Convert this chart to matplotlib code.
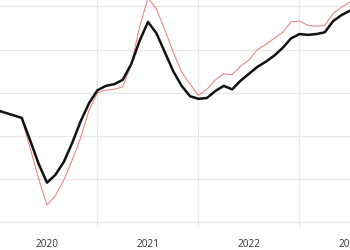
import matplotlib
matplotlib.use('Agg')
import matplotlib.pyplot as plt

plt.rcParams['font.family'] = ['Open Sans', 'DejaVu Sans']

# monthly data, Jan 2020 .. Jul 2023
months = list(range(43))
black = [3.0, 2.7, 2.4, 2.1, -0.5, -3.2, -5.4, -4.5, -3.0, -0.8, 1.7, 3.8,
         5.3, 5.8, 6.0, 6.5, 8.3, 11.0, 13.2, 11.9, 9.7, 7.5, 5.8, 4.6,
         4.3, 4.4, 5.2, 5.8, 5.4, 6.4, 7.2, 8.0, 8.6, 9.3, 10.2, 11.3,
         11.8, 11.7, 11.8, 12.0, 13.3, 14.0, 14.5]
red = [3.0, 2.7, 2.4, 2.0, -1.4, -4.9, -8.0, -6.9, -5.1, -2.8, -0.2, 3.0,
       5.0, 5.3, 5.4, 5.7, 8.2, 12.6, 16.0, 14.7, 12.3, 9.7, 7.4, 6.0,
       4.7, 5.4, 6.5, 7.2, 7.1, 8.1, 8.8, 10.0, 10.6, 11.3, 12.0, 13.2,
       13.3, 12.8, 12.7, 12.8, 14.2, 14.9, 15.5]
years = [2020, 2021, 2022, 2023]
y_grid = [-10, -5, 0, 5, 10, 15]

x = [2020 + m / 12 for m in months]

fig = plt.figure(figsize=(3.5, 2.5), dpi=100)
ax = fig.add_axes([0, 0.088, 1, 0.912])

ax.plot(x, red, color='#e58a85', lw=0.8, zorder=2)
ax.plot(x, black, color='#111111', lw=1.8, zorder=3)

ax.set_xlim(2020.035, 2023.5)
ax.set_ylim(-10.65, 15.74)

ax.set_yticks(y_grid)
ax.set_yticklabels([])
ax.set_xticks([y + 0.5 for y in years])
ax.set_xticklabels([str(y) for y in years], fontsize=7.3, color='#333333')
ax.set_xticks([2021, 2022, 2023], minor=True)
ax.tick_params(axis='both', length=0, pad=8)
ax.tick_params(axis='x', which='minor', length=0)

ax.grid(axis='y', color='#e8e8e8', lw=1)
ax.grid(axis='x', which='minor', color='#e8e8e8', lw=0.8)
ax.grid(axis='x', which='major', visible=False)

for s in ax.spines.values():
    s.set_visible(False)

fig.savefig('out.png', dpi=100)
